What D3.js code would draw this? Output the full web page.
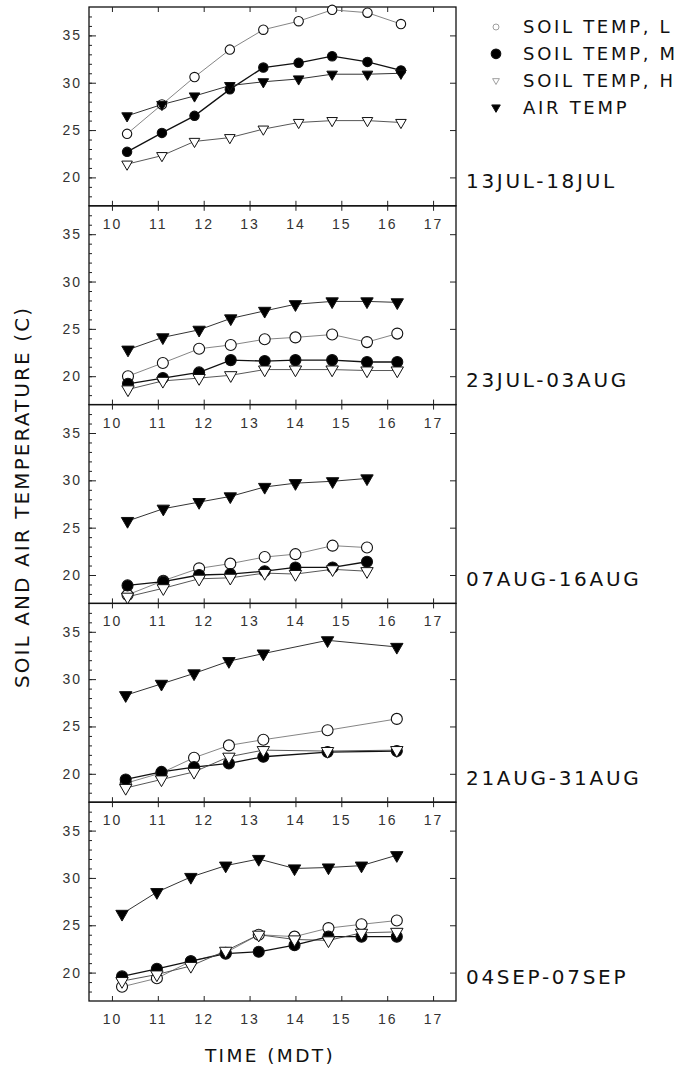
<!DOCTYPE html>
<html>
<head>
<meta charset="utf-8">
<script src="https://cdn.jsdelivr.net/npm/d3@7"></script>
<style>
	body { margin: 0; background: #fff; }
	svg { display: block; font-family: "DejaVu Sans", sans-serif; }
	.tick text { font-size: 14px; fill: #333; letter-spacing: 2px; }
	.tick line { stroke: #222; }
	.domain { display: none; }
</style>
</head>
<body>
<div id="chart"></div>
<script>
var seriesNames = ["SOIL TEMP, L", "SOIL TEMP, M", "SOIL TEMP, H", "AIR TEMP"];
var periods = ["13JUL-18JUL", "23JUL-03AUG", "07AUG-16AUG", "21AUG-31AUG", "04SEP-07SEP"];
var xTicks = [10, 11, 12, 13, 14, 15, 16, 17];
var yTicks = [20, 25, 30, 35];

// Reading times (hours MDT), one row per period
var times = [
	[10.33, 11.09, 11.8, 12.57, 13.3, 14.07, 14.8, 15.57, 16.3],
	[10.35, 11.11, 11.9, 12.59, 13.33, 14.0, 14.8, 15.56, 16.22],
	[10.34, 11.12, 11.9, 12.58, 13.33, 14.0, 14.81, 15.56],
	[10.3, 11.08, 11.79, 12.55, 13.3, 14.7, 16.21],
	[10.22, 10.98, 11.72, 12.48, 13.2, 13.98, 14.72, 15.44, 16.21]
];

// Mean temperatures (C), one row per period
var soilL = [
	[24.6, 27.7, 30.6, 33.5, 35.6, 36.5, 37.7, 37.4, 36.2],
	[20.0, 21.4, 22.9, 23.3, 23.9, 24.1, 24.4, 23.6, 24.5],
	[17.9, 19.4, 20.7, 21.2, 21.9, 22.2, 23.1, 22.9],
	[19.0, 20.1, 21.7, 23.0, 23.6, 24.6, 25.8],
	[18.5, 19.4, 21.2, 22.1, 24.0, 23.8, 24.7, 25.1, 25.5]
];
var soilM = [
	[22.7, 24.7, 26.5, 29.3, 31.6, 32.1, 32.8, 32.2, 31.3],
	[19.2, 19.8, 20.4, 21.7, 21.6, 21.7, 21.7, 21.5, 21.5],
	[18.9, 19.3, 20.0, 20.1, 20.4, 20.8, 20.8, 21.4],
	[19.4, 20.2, 20.7, 21.1, 21.8, 22.3, 22.4],
	[19.6, 20.4, 21.2, 22.0, 22.2, 22.9, 23.8, 23.8, 23.8]
];
var soilH = [
	[21.4, 22.3, 23.8, 24.2, 25.1, 25.8, 26.0, 26.0, 25.8],
	[18.6, 19.5, 19.8, 20.1, 20.7, 20.7, 20.7, 20.6, 20.6],
	[17.7, 18.6, 19.6, 19.7, 20.2, 20.1, 20.6, 20.4],
	[18.5, 19.4, 20.2, 21.8, 22.5, 22.4, 22.5],
	[19.1, 19.8, 20.7, 22.3, 24.0, 23.5, 23.4, 24.2, 24.3]
];
var airTemp = [
	[26.5, 27.7, 28.6, 29.7, 30.1, 30.4, 30.9, 30.9, 31.0],
	[22.8, 24.1, 24.9, 26.1, 26.9, 27.6, 27.9, 27.9, 27.8],
	[25.7, 27.0, 27.7, 28.3, 29.3, 29.7, 29.9, 30.2],
	[28.3, 29.5, 30.6, 31.9, 32.7, 34.1, 33.4],
	[26.2, 28.5, 30.1, 31.3, 32.0, 31.0, 31.1, 31.3, 32.4]
];

var width = 683,
		height = 1071,
		margin = {top: 7, left: 89},
		panelWidth = 367,
		panelHeight = 198.8;

// marker and line style per series
var styles = [
	{shape: "circle", fill: "#fff", line: "#777", lineWidth: 0.9},
	{shape: "circle", fill: "#000", line: "#111", lineWidth: 1.3},
	{shape: "triangle", fill: "#fff", line: "#444", lineWidth: 0.9},
	{shape: "triangle", fill: "#000", line: "#333", lineWidth: 1}
];

var x = d3.scaleLinear().domain([9.5, 17.5]).range([0, panelWidth]);
var y = d3.scaleLinear().domain([17, 38]).range([panelHeight, 0]);

var line = d3.line()
		.x(function(d) { return x(d[0]); })
		.y(function(d) { return y(d[1]); });

var svg = d3.select("#chart").append("svg")
		.attr("width", width)
		.attr("height", height);

function drawMarker(sel, style, r) {
	if (style.shape === "circle") {
		sel.append("circle")
				.attr("r", r)
				.attr("fill", style.fill)
				.attr("stroke", "#111")
				.attr("stroke-width", 1.1);
	} else {
		sel.append("path")
				.attr("d", d3.symbol().type(d3.symbolTriangle).size(r * r * 2.2)())
				.attr("transform", "rotate(180)")
				.attr("fill", style.fill)
				.attr("stroke", "#111")
				.attr("stroke-width", 1);
	}
}

var allSeries = [soilL, soilM, soilH, airTemp];

periods.forEach(function(period, i) {
	var g = svg.append("g")
			.attr("transform", "translate(" + margin.left + "," + (margin.top + i * panelHeight) + ")");
	var r = i === 0 ? 4.7 : 5.5;

	// Frame
	g.append("rect")
			.attr("width", panelWidth)
			.attr("height", panelHeight)
			.attr("fill", "none")
			.attr("stroke", "#111")
			.attr("stroke-width", 1.3);

	// Left axis, minor then major ticks
	g.append("g")
			.call(d3.axisLeft(y).tickValues(d3.range(18, 38)).tickSize(-3).tickFormat(""));
	g.append("g")
			.call(d3.axisLeft(y).tickValues(yTicks).tickSizeInner(-7).tickSizeOuter(0).tickPadding(7));

	// Right axis
	g.append("g")
			.attr("transform", "translate(" + panelWidth + ",0)")
			.call(d3.axisRight(y).tickValues(yTicks).tickSizeInner(-6).tickSizeOuter(0).tickFormat(""));

	// Top and bottom axes
	g.append("g")
			.call(d3.axisTop(x).tickValues(xTicks).tickSizeInner(-5).tickSizeOuter(0).tickFormat(""));
	g.append("g")
			.attr("transform", "translate(0," + panelHeight + ")")
			.call(d3.axisBottom(x).tickValues(xTicks).tickSizeInner(-5).tickSizeOuter(0).tickPadding(13));

	// Series lines and markers
	allSeries.forEach(function(values, s) {
		var pts = d3.zip(times[i], values[i]);
		g.append("path")
				.datum(pts)
				.attr("d", line)
				.attr("fill", "none")
				.attr("stroke", styles[s].line)
				.attr("stroke-width", styles[s].lineWidth);
	});
	allSeries.forEach(function(values, s) {
		var pts = d3.zip(times[i], values[i]);
		g.selectAll(".m" + s)
			.data(pts)
			.enter().append("g")
				.attr("class", "m" + s)
				.attr("transform", function(d) { return "translate(" + x(d[0]) + "," + y(d[1]) + ")"; })
				.each(function() { drawMarker(d3.select(this), styles[s], r); });
	});

	// Period label
	g.append("text")
			.attr("x", 377)
			.attr("y", y(19.6))
			.attr("dy", "0.36em")
			.style("font-size", "20px")
			.style("letter-spacing", "2.7px")
			.style("fill", "#111")
			.text(period);
});

// Legend
var legend = svg.append("g").attr("transform", "translate(496,27)");
var legendRow = legend.selectAll(".legend-row")
		.data(seriesNames)
	.enter().append("g")
		.attr("class", "legend-row")
		.attr("transform", function(d, i) { return "translate(0," + (i * 26.8) + ")"; });

legendRow.each(function(d, i) {
	var rr = [3, 4.8, 3, 3.8][i];
	drawMarker(d3.select(this), styles[i], rr);
	if (i === 0 || i === 2) d3.select(this).selectAll("circle, path").attr("stroke", "#888").attr("stroke-width", 0.8);
});

legendRow.append("text")
		.attr("x", 27)
		.attr("dy", "0.36em")
		.style("font-size", "18px")
		.style("letter-spacing", "2.7px")
		.style("fill", "#111")
		.text(function(d) { return d; });

// Axis titles
svg.append("text")
		.attr("transform", "translate(29,497) rotate(-90)")
		.style("text-anchor", "middle")
		.style("font-size", "20px")
		.style("letter-spacing", "2.1px")
		.style("fill", "#111")
		.text("SOIL AND AIR TEMPERATURE (C)");

svg.append("text")
		.attr("x", 270)
		.attr("y", 1062)
		.style("text-anchor", "middle")
		.style("font-size", "18.5px")
		.style("letter-spacing", "2.4px")
		.style("fill", "#111")
		.text("TIME (MDT)");
</script>
</body>
</html>
